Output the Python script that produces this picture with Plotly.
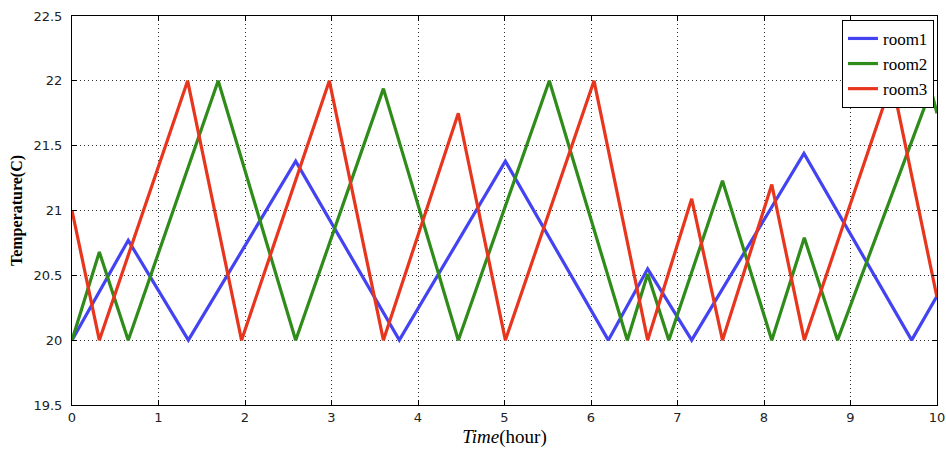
import plotly.graph_objects as go

# room1 (blue) vertices
room1_t = [0, 0.65, 1.345, 2.586, 3.784, 5.01, 6.2, 6.655, 7.164, 8.462, 9.707, 10]
room1_v = [20, 20.77, 20, 21.38, 20, 21.38, 20, 20.55, 20, 21.44, 20, 20.34]

# room2 (green) vertices
room2_t = [0, 0.316, 0.65, 1.69, 2.586, 3.6, 4.466, 5.518, 6.42, 6.655, 6.90, 7.52, 8.09, 8.466, 8.85, 9.93, 10]
room2_v = [20, 20.68, 20, 22, 20, 21.94, 20, 22, 20, 20.51, 20, 21.23, 20, 20.79, 20, 21.93, 21.75]

# room3 (red) vertices
room3_t = [0, 0.316, 1.337, 1.96, 2.975, 3.6, 4.466, 5.01, 6.035, 6.655, 7.164, 7.52, 8.09, 8.466, 9.48, 10]
room3_v = [21, 20, 22, 20, 22, 20, 21.75, 20, 22, 20, 21.09, 20, 21.2, 20, 22, 20.33]

x_ticks = list(range(0, 11))
y_ticks = [19.5, 20, 20.5, 21, 21.5, 22, 22.5]
y_tick_labels = ["19.5", "20", "20.5", "21", "21.5", "22", "22.5"]

fig = go.Figure()
series = [
    ("room1", room1_t, room1_v, "#4343F2"),
    ("room2", room2_t, room2_v, "#2F8C1A"),
    ("room3", room3_t, room3_v, "#E8361E"),
]
for name, t, v, c in series:
    fig.add_trace(go.Scatter(x=t, y=v, mode="lines", name=name,
                             line=dict(color=c, width=3.2)))

axis_common = dict(
    showline=True, linecolor="black", linewidth=1, mirror="ticks",
    ticks="inside", ticklen=5, tickcolor="black",
    showgrid=True, gridcolor="#333", griddash="1px,3px", gridwidth=1,
    zeroline=False, automargin=False,
    tickfont=dict(family="DejaVu Sans", size=13, color="#222"),
)

fig.update_xaxes(range=[0, 10], tickvals=x_ticks, **axis_common,
                 title=dict(text="<i>Time</i>(hour)", standoff=6,
                            font=dict(family="Liberation Serif", size=19, color="black")))
fig.update_yaxes(range=[19.5, 22.5], tickvals=y_ticks, ticktext=y_tick_labels, **axis_common,
                 ticklabelstandoff=6,
                 title=dict(text="<b>Temperature(C)</b>", standoff=6,
                            font=dict(family="Liberation Serif", size=16, color="black")))

fig.update_layout(
    width=946, height=457,
    margin=dict(l=72, r=9, t=16, b=52),
    paper_bgcolor="white", plot_bgcolor="white",
    legend=dict(x=0.9965, y=0.99, xanchor="right", yanchor="top",
                bgcolor="white", bordercolor="black", borderwidth=1,
                font=dict(family="Liberation Serif", size=17, color="black"),
                tracegroupgap=0, itemwidth=30),
    showlegend=True,
)

fig.write_html("out.html")
